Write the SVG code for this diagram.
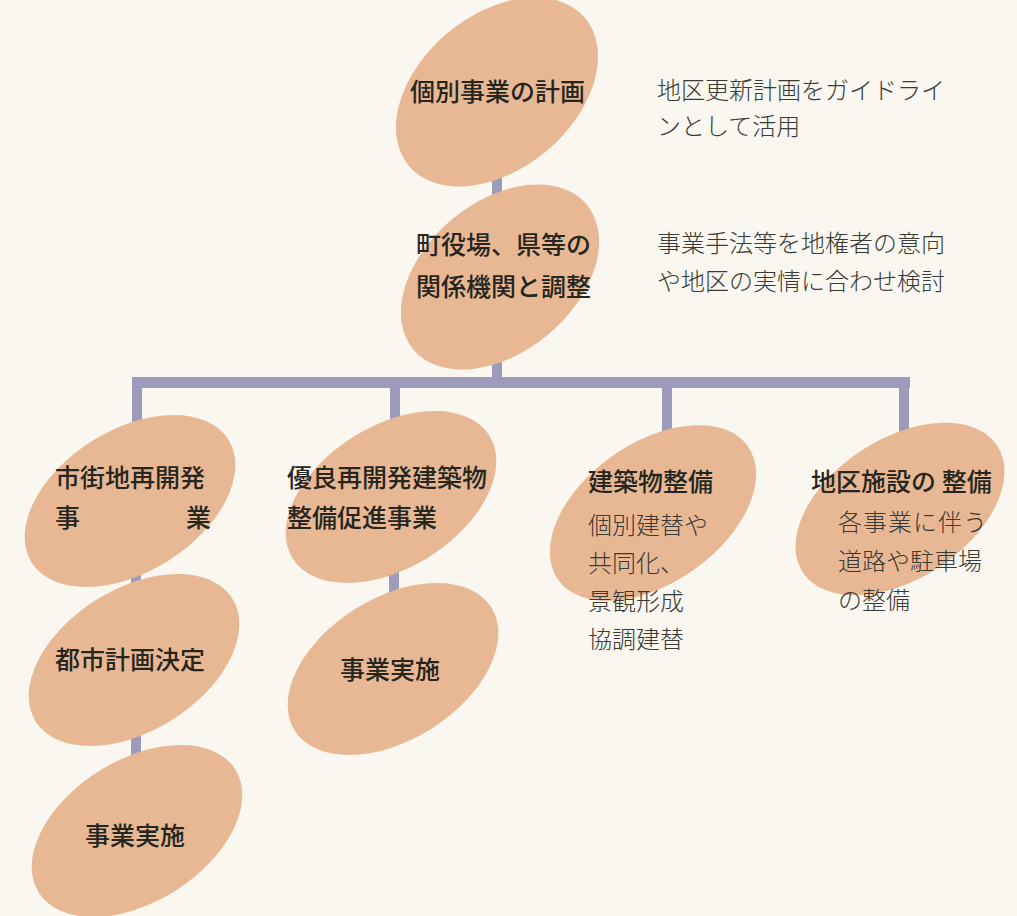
<svg xmlns="http://www.w3.org/2000/svg" width="1017" height="916" viewBox="0 0 1017 916">
<style>
.bg{fill:#f9f7ef}
.node{fill:#e8b895}
.conn{fill:#9d9bbb}
.lbl{font-family:"Noto Sans CJK JP","Noto Sans CJK SC",sans-serif;font-size:25px;font-weight:500;fill:#26261e}
.note{font-family:"Noto Sans CJK JP","Noto Sans CJK SC",sans-serif;font-size:24px;font-weight:300;fill:#3a3a34}
</style>
<rect class="bg" x="0" y="0" width="1017" height="916"/>
<g id="connectors">
<rect class="conn" x="492" y="160" width="10" height="50"/>
<rect class="conn" x="492" y="340" width="10" height="44"/>
<rect class="conn" x="132" y="377" width="778" height="11"/>
<rect class="conn" x="132" y="377" width="10" height="70"/>
<rect class="conn" x="390" y="377" width="10" height="70"/>
<rect class="conn" x="662" y="377" width="10" height="70"/>
<rect class="conn" x="899" y="377" width="10" height="70"/>
<rect class="conn" x="131" y="560" width="10" height="50"/>
<rect class="conn" x="131" y="725" width="10" height="40"/>
<rect class="conn" x="389" y="560" width="10" height="40"/>
</g>
<g id="n1">
<ellipse class="node" cx="0" cy="0" rx="115" ry="77" transform="translate(497,92) rotate(-40)"/>
<text class="lbl" x="410" y="101">個別事業の計画</text>
</g>
<g id="note1">
<text class="note" x="657" y="99">地区更新計画をガイドライ</text>
<text class="note" x="657" y="135">ンとして活用</text>
</g>
<g id="n2">
<ellipse class="node" cx="0" cy="0" rx="113" ry="75" transform="translate(500,277) rotate(-40)"/>
<text class="lbl" x="416" y="254">町役場、県等の</text>
<text class="lbl" x="416" y="296">関係機関と調整</text>
</g>
<g id="note2">
<text class="note" x="657" y="252">事業手法等を地権者の意向</text>
<text class="note" x="657" y="290">や地区の実情に合わせ検討</text>
</g>
<g id="n3">
<ellipse class="node" cx="0" cy="0" rx="116" ry="71" transform="translate(130,501) rotate(-32)"/>
<text class="lbl" x="55" y="487">市街地再開発</text>
<text class="lbl" x="55" y="527">事</text>
<text class="lbl" x="186" y="527">業</text>
</g>
<g id="n4">
<ellipse class="node" cx="0" cy="0" rx="116" ry="71" transform="translate(391,497) rotate(-32)"/>
<text class="lbl" x="287" y="487">優良再開発建築物</text>
<text class="lbl" x="287" y="527">整備促進事業</text>
</g>
<g id="n5">
<ellipse class="node" cx="0" cy="0" rx="116" ry="70" transform="translate(653,513) rotate(-35)"/>
<text class="lbl" x="588" y="491">建築物整備</text>
<text class="note" x="588" y="534">個別建替や</text>
<text class="note" x="588" y="572">共同化、</text>
<text class="note" x="588" y="610">景観形成</text>
<text class="note" x="588" y="648">協調建替</text>
</g>
<g id="n6">
<ellipse class="node" cx="0" cy="0" rx="116" ry="70" transform="translate(900,509) rotate(-33)"/>
<text class="lbl" x="811" y="491">地区施設の 整備</text>
<text class="note" x="838" y="531" letter-spacing="1">各事業に伴う</text>
<text class="note" x="838" y="570">道路や駐車場</text>
<text class="note" x="838" y="609">の整備</text>
</g>
<g id="n7">
<ellipse class="node" cx="0" cy="0" rx="116" ry="71" transform="translate(134,660) rotate(-32)"/>
<text class="lbl" x="55" y="669">都市計画決定</text>
</g>
<g id="n8">
<ellipse class="node" cx="0" cy="0" rx="116" ry="71" transform="translate(393,669) rotate(-32)"/>
<text class="lbl" x="340" y="679">事業実施</text>
</g>
<g id="n9">
<ellipse class="node" cx="0" cy="0" rx="116" ry="71" transform="translate(137,831) rotate(-32)"/>
<text class="lbl" x="85" y="845">事業実施</text>
</g>
</svg>
